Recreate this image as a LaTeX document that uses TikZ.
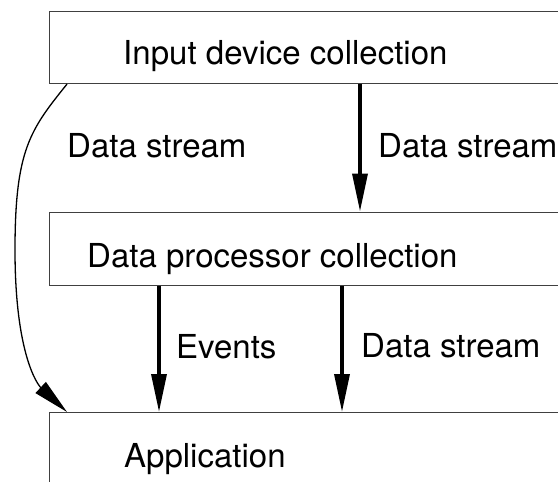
\documentclass[tikz,border=0pt]{standalone}
\usepackage{fontspec}
\setmainfont{TeX Gyre Heros}
\usetikzlibrary{arrows.meta}
\begin{document}
\begin{tikzpicture}[x=1pt,y=-1pt,
  box/.style={draw=black!75,line width=1.1pt,fill=white,rectangle,inner sep=0pt,anchor=north west},
  lbl/.style={anchor=base west,inner sep=0pt,font=\fontsize{33}{40}\selectfont},
  thickarrow/.style={line width=3.4pt,-{Triangle[length=38pt,width=15pt]}},
  thinarrow/.style={line width=1.3pt,-{Triangle[length=36pt,width=15pt]}}]
\useasboundingbox (0,0) rectangle (558,482);
\clip (0,0) rectangle (558,482);
% boxes
\node[box,minimum width=560pt,minimum height=72.5pt] (b1) at (49,10.5) {};
\node[box,minimum width=560pt,minimum height=73pt] (b2) at (49,211.5) {};
\node[box,minimum width=560pt,minimum height=110pt] (b3) at (49,412) {};
% box texts
\node[lbl] (t1) at (123,64) {Input device collection};
\node[lbl] (t2) at (87,267) {Data processor collection};
\node[lbl] (t3) at (124,467) {Application};
% x positions of connectors
\coordinate (xa) at (67,0);
\coordinate (xb) at (360,0);
\coordinate (xc) at (159,0);
\coordinate (xd) at (342,0);
\coordinate (cm) at (15,250);
% connectors
\draw[thickarrow] (xb |- b1.south) -- (xb |- b2.north);
\draw[thickarrow] (xc |- b2.south) -- (xc |- b3.north);
\draw[thickarrow] (xd |- b2.south) -- (xd |- b3.north);
\draw[thinarrow] (xa |- b1.south) .. controls (30,130) and (15,150) .. (cm)
  .. controls (15,355) and (38,385) .. (xa |- b3.north);
% connector labels
\node[lbl] (l1) at (67,157) {Data stream};
\node[lbl] (l2) at (378,157) {Data stream};
\node[lbl] (l3) at (176,358) {Events};
\node[lbl] (l4) at (361,357) {Data stream};
\end{tikzpicture}
\end{document}
